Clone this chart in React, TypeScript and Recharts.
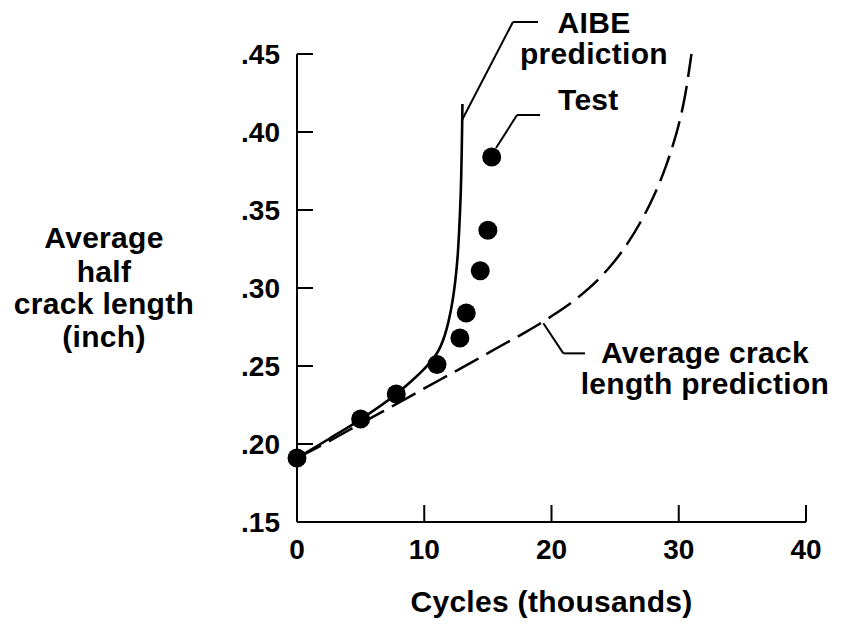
import React from 'react';
import {
  ComposedChart,
  Line,
  Scatter,
  XAxis,
  YAxis,
  ReferenceLine,
  ReferenceDot,
} from 'recharts';

// ---------- data ----------
const xTicks = [0, 10, 20, 30, 40];
const yTicks = [0.15, 0.2, 0.25, 0.3, 0.35, 0.4, 0.45];

const testCycles = [0, 5, 7.8, 11, 12.8, 13.3, 14.4, 15.0, 15.3];
const testLength = [0.191, 0.216, 0.232, 0.251, 0.268, 0.284, 0.311, 0.337, 0.384];

const aibeCycles = [0, 2.5, 5, 7.8, 9, 10, 10.5, 11, 11.3, 11.6, 11.9, 12.2, 12.45, 12.65, 12.8, 12.9, 12.95, 12.98, 13.0];
const aibeLength = [0.191, 0.2032, 0.2158, 0.232, 0.2404, 0.2482, 0.2526, 0.2582, 0.2629, 0.2694, 0.2783, 0.2906, 0.3054, 0.3234, 0.3467, 0.37, 0.39, 0.405, 0.418];

const avgCycles = [0, 2, 4, 6, 8, 10, 12, 14, 16, 18, 20, 22, 24, 25, 26, 27, 28, 29, 29.5, 30, 30.5, 31];
const avgLength = [0.191, 0.1995, 0.2085, 0.2175, 0.2265, 0.2356, 0.2446, 0.2536, 0.2628, 0.2719, 0.2819, 0.2934, 0.3082, 0.3176, 0.3289, 0.3423, 0.3583, 0.3783, 0.3905, 0.4048, 0.4235, 0.45];

// annotation leader lines (data coordinates)
const aibeLeader = [
  { x: 12.97, y: 0.4077 },
  { x: 16.97, y: 0.4705 },
  { x: 18.94, y: 0.4705 },
];
const testLeader = [
  { x: 15.64, y: 0.3897 },
  { x: 17.29, y: 0.4109 },
  { x: 19.1, y: 0.4109 },
];
const avgLeader = [
  { x: 19.36, y: 0.2774 },
  { x: 20.93, y: 0.2581 },
  { x: 22.63, y: 0.2581 },
];

// annotation texts (data coordinates of baseline anchor)
const notes = [
  { text: 'AIBE', x: 23.34, y: 0.4635, anchor: 'middle' },
  { text: 'prediction', x: 23.34, y: 0.4435, anchor: 'middle' },
  { text: 'Test', x: 20.51, y: 0.4141, anchor: 'start' },
  { text: 'Average crack', x: 32.06, y: 0.2519, anchor: 'middle' },
  { text: 'length prediction', x: 32.06, y: 0.2322, anchor: 'middle' },
];

const yTitleLines = ['Average', 'half', 'crack length', '(inch)'];
const xTitle = 'Cycles (thousands)';

// ---------- helpers ----------
const zip = (xs: number[], ys: number[]) => xs.map((x, i) => ({ x, y: ys[i] }));
const testData = zip(testCycles, testLength);
const aibeData = zip(aibeCycles, aibeLength);
const avgData = zip(avgCycles, avgLength);

const FONT = '"Liberation Sans", Arial, Helvetica, sans-serif';
const INK = '#000';
const Y_AXIS_W = 60;
const X_AXIS_H = 30;

const XTick = (props: any) => {
  const { x, y, payload } = props;
  return (
    <g>
      <line x1={x} y1={y} x2={x} y2={y - 17} stroke={INK} strokeWidth={2} />
      <text x={x} y={y + 37} textAnchor="middle" fontFamily={FONT} fontWeight="bold" fontSize={28} fill={INK}>
        {String(payload.value)}
      </text>
    </g>
  );
};

const YTick = (props: any) => {
  const { x, y, payload } = props;
  const label = Number(payload.value).toFixed(2).replace(/^0/, '');
  return (
    <g>
      <line x1={x} y1={y} x2={x + 16} y2={y} stroke={INK} strokeWidth={2} />
      <text x={x - 17} y={y + 10} textAnchor="end" fontFamily={FONT} fontWeight="bold" fontSize={28} fill={INK}>
        {label}
      </text>
    </g>
  );
};

const YTitle = (props: any) => {
  const vb = props.viewBox || { x: 237, y: 54, width: Y_AXIS_W, height: 468 };
  const axisX = vb.x + (vb.width || 0);
  const cx = axisX - 193;
  const cy = vb.y + vb.height / 2;
  const base = [-40, -6.5, 26, 59];
  return (
    <g>
      {yTitleLines.map((t, i) => (
        <text key={t} x={cx} y={cy + base[i]} textAnchor="middle" fontFamily={FONT} fontWeight="bold" fontSize={30} letterSpacing={0.3} fill={INK}>
          {t}
        </text>
      ))}
    </g>
  );
};

const XTitle = (props: any) => {
  const vb = props.viewBox || { x: 297, y: 522, width: 509, height: X_AXIS_H };
  return (
    <text x={vb.x + vb.width / 2} y={vb.y + 90} textAnchor="middle" fontFamily={FONT} fontWeight="bold" fontSize={30} letterSpacing={0.3} fill={INK}>
      {xTitle}
    </text>
  );
};

const leaderSegments = (pts: { x: number; y: number }[], key: string) =>
  pts.slice(1).map((p, i) => (
    <ReferenceLine
      key={`${key}-${i}`}
      segment={[pts[i], p]}
      ifOverflow="visible"
      stroke={INK}
      strokeWidth={2}
    />
  ));

export default function App() {
  return (
    <div style={{ position: 'absolute', left: 0, top: 0, width: 841, height: 624, background: '#fff', overflow: 'hidden' }}>
      <ComposedChart
        width={841}
        height={624}
        margin={{ top: 54, right: 35, bottom: 102 - X_AXIS_H, left: 297 - Y_AXIS_W }}
        style={{ background: '#fff' }}
      >
        <XAxis
          type="number"
          dataKey="x"
          domain={[0, 40]}
          ticks={xTicks}
          height={X_AXIS_H}
          tickSize={0}
          tickMargin={0}
          tickLine={false}
          axisLine={{ stroke: INK, strokeWidth: 2 }}
          tick={<XTick />}
          interval={0}
          label={XTitle}
        />
        <YAxis
          type="number"
          dataKey="y"
          domain={[0.15, 0.45]}
          ticks={yTicks}
          width={Y_AXIS_W}
          tickSize={0}
          tickMargin={0}
          tickLine={false}
          axisLine={{ stroke: INK, strokeWidth: 2 }}
          tick={<YTick />}
          interval={0}
          label={YTitle}
        />
        <Line
          data={avgData}
          dataKey="y"
          type="monotone"
          stroke={INK}
          strokeWidth={2.5}
          strokeDasharray="27 9"
          dot={false}
          activeDot={false}
          isAnimationActive={false}
        />
        <Line
          data={aibeData}
          dataKey="y"
          type="monotone"
          stroke={INK}
          strokeWidth={2.6}
          dot={false}
          activeDot={false}
          isAnimationActive={false}
        />
        <Scatter
          data={testData}
          dataKey="y"
          fill={INK}
          isAnimationActive={false}
          shape={(p: any) => <circle cx={p.cx} cy={p.cy} r={9.5} fill={INK} />}
        />
        {leaderSegments(aibeLeader, 'aibe')}
        {leaderSegments(testLeader, 'test')}
        {leaderSegments(avgLeader, 'avg')}
        {notes.map((n) => (
          <ReferenceDot
            key={n.text}
            x={n.x}
            y={n.y}
            r={0}
            ifOverflow="visible"
            shape={(p: any) => (
              <text x={p.cx} y={p.cy} textAnchor={n.anchor as any} fontFamily={FONT} fontWeight="bold" fontSize={30} letterSpacing={0.3} fill={INK}>
                {n.text}
              </text>
            )}
          />
        ))}
      </ComposedChart>
    </div>
  );
}
